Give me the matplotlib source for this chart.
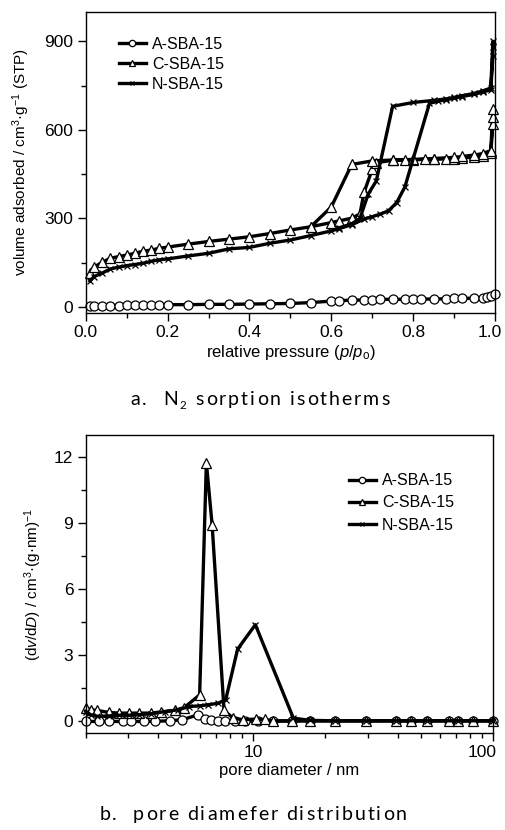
import matplotlib
matplotlib.use("Agg")
import matplotlib.pyplot as plt
from matplotlib.transforms import IdentityTransform, ScaledTranslation
from matplotlib.ticker import MultipleLocator, LogLocator, NullFormatter, FixedLocator, FixedFormatter

plt.rcParams['font.family'] = ['Liberation Sans', 'DejaVu Sans']
plt.rcParams['mathtext.fontset'] = 'custom'
plt.rcParams['mathtext.rm'] = 'Liberation Sans'
plt.rcParams['mathtext.it'] = 'Liberation Sans:italic'

# ---- (a) N2 sorption isotherms: adsorption then desorption branch ----
a_x = [0.01, 0.02, 0.04, 0.06, 0.08, 0.10, 0.12, 0.14, 0.16, 0.18, 0.20, 0.25, 0.30, 0.35,
       0.40, 0.45, 0.50, 0.55, 0.60, 0.62, 0.65, 0.68, 0.70, 0.72, 0.75, 0.78, 0.80, 0.82,
       0.85, 0.88, 0.90, 0.92, 0.95, 0.97, 0.98, 0.99, 1.0]
a_y = [2, 2, 3, 5, 5, 6, 6, 7, 7, 8, 8, 8, 9, 9, 10, 11, 12, 15, 20, 22, 23, 24, 25, 26, 26,
       26, 27, 27, 27, 28, 29, 29, 30, 31, 34, 38, 45]

c_x = [0.01, 0.02, 0.04, 0.06, 0.08, 0.10, 0.12, 0.14, 0.16, 0.18, 0.20, 0.25, 0.30, 0.35,
       0.40, 0.45, 0.50, 0.55, 0.60, 0.62, 0.65, 0.67, 0.68, 0.70, 0.71, 0.75, 0.78, 0.80,
       0.83, 0.85, 0.88, 0.90, 0.92, 0.95, 0.97, 0.99, 0.995, 0.995, 0.995,
       0.99, 0.97, 0.95, 0.92, 0.90, 0.85, 0.80, 0.75, 0.70, 0.65, 0.60, 0.55]
c_y = [115, 135, 152, 165, 171, 176, 182, 189, 193, 199, 203, 213, 222, 230, 238, 249, 261,
       272, 286, 292, 301, 315, 388, 466, 489, 497, 497, 499, 500, 500, 502, 503, 505, 508,
       513, 523, 620, 645, 670,
       530, 520, 515, 510, 507, 503, 500, 498, 495, 483, 339, 272]

n_x = [0.01, 0.02, 0.04, 0.06, 0.08, 0.10, 0.12, 0.14, 0.16, 0.18, 0.20, 0.25, 0.30, 0.35,
       0.40, 0.45, 0.50, 0.55, 0.60, 0.62, 0.65, 0.68, 0.70, 0.72, 0.74, 0.76, 0.78, 0.84,
       0.86, 0.88, 0.90, 0.92, 0.95, 0.97, 0.99, 0.995, 0.995, 0.995,
       0.99, 0.97, 0.95, 0.92, 0.90, 0.88, 0.85, 0.80, 0.75, 0.71, 0.69, 0.67, 0.65, 0.62]
n_y = [88, 103, 115, 129, 135, 140, 144, 148, 155, 160, 163, 173, 182, 197, 202, 216, 227,
       242, 258, 266, 279, 298, 306, 315, 326, 354, 407, 690, 697, 702, 708, 713, 721, 728,
       736, 850, 880, 900,
       742, 732, 724, 716, 710, 705, 700, 693, 680, 427, 382, 300, 282, 268]

# ---- (b) pore diameter distribution ----
pa_d = [2.0, 2.27, 2.5, 2.85, 3.1, 3.5, 3.9, 4.5, 5.05, 5.88, 6.27, 6.69, 7.13, 7.6, 8.4, 9.2,
        10.5, 12.1, 14.5, 17.3, 22, 29.4, 39.3, 45.4, 53.3, 65.7, 71.3, 82.5, 100]
pa_v = [-0.03, -0.03, -0.03, -0.03, -0.03, -0.03, -0.02, 0.0, 0.05, 0.27, 0.09, 0.02, 0, 0,
        -0.02, -0.02, -0.02, -0.02, -0.01, 0, 0, 0, 0, 0, 0, 0, 0, 0, 0]

pc_d = [2.0, 2.1, 2.23, 2.5, 2.76, 3.04, 3.34, 3.74, 4.1, 4.69, 5.15, 5.97, 6.37, 6.73, 7.55,
        8.24, 9.08, 10.3, 11.2, 12.1, 14.5, 17.3, 22.0, 29.4, 39.3, 45.4, 53.3, 65.7, 71.3,
        82.5, 100]
pc_v = [0.6, 0.5, 0.47, 0.38, 0.35, 0.35, 0.35, 0.35, 0.4, 0.47, 0.6, 1.18, 11.73, 8.92, 0.47,
        0.12, 0.05, 0.08, 0.06, 0, 0, 0, 0, 0, 0, 0, 0, 0, 0, 0, 0]

pn_d = [2.0, 2.1, 2.23, 2.5, 2.76, 3.04, 3.34, 3.74, 4.3, 4.85, 5.4, 5.97, 6.5, 7.13, 7.67,
        8.6, 10.2, 14.7, 17.3, 22, 29.4, 39.3, 53.3, 71.3, 100]
pn_v = [0.42, 0.27, 0.2, 0.22, 0.25, 0.25, 0.28, 0.32, 0.42, 0.5, 0.65, 0.68, 0.73, 0.8, 0.96,
        3.26, 4.37, 0.12, 0.02, 0, 0, 0, 0, 0, 0]

labels = ['A-SBA-15', 'C-SBA-15', 'N-SBA-15']


# letter-spaced caption; parts are (text, subscript?)
def spaced_caption(fig, xc, y, parts, size=14, gap=2.0):
    r = fig.canvas.get_renderer()

    def width(s, fs):
        # bar on both sides so that spaces are counted
        t = fig.text(0, 0, '|' + s + '|', fontsize=fs, family='Lato')
        w = t.get_window_extent(r).width
        t.set_text('||')
        w -= t.get_window_extent(r).width
        t.remove()
        return w

    items = []
    for s, sub in parts:
        fs = size * 0.6 if sub else size
        for ch in s:
            items.append((ch, fs, sub, width(ch, fs)))
    total = sum(i[3] for i in items) + gap * (len(items) - 1)
    x = xc - total / 2
    for ch, fs, sub, w in items:
        if ch != ' ':
            fig.text(x, y - (4 if sub else 0), ch, fontsize=fs, family='Lato',
                     transform=IdentityTransform(), va='baseline')
        x += w + gap


fig = plt.figure(figsize=(5.05, 8.30), dpi=100)
ax1 = fig.add_axes([0.170, 0.623, 0.810, 0.3627])
ax2 = fig.add_axes([0.170, 0.117, 0.806, 0.359])

lw = 2.4
mk = dict(mfc='white', mec='black', mew=0.9, color='black', lw=lw, clip_on=False)

ax1.plot(a_x, a_y, marker='o', ms=6.5, label=labels[0], **mk)
ax1.plot(c_x, c_y, marker='^', ms=6.5, label=labels[1], **mk)
ax1.plot(n_x, n_y, marker='x', ms=5, label=labels[2], **mk)

ax2.plot(pa_d, pa_v, marker='o', ms=6.5, label=labels[0], **mk)
ax2.plot(pc_d, pc_v, marker='^', ms=6.5, label=labels[1], **mk)
ax2.plot(pn_d, pn_v, marker='x', ms=5, label=labels[2], **mk)

# axes (a)
ax1.set_xlim(0, 1.0)
ax1.set_ylim(-20, 1000)
ax1.xaxis.set_major_locator(FixedLocator([0, 0.2, 0.4, 0.6, 0.8, 1.0]))
ax1.xaxis.set_major_formatter(FixedFormatter(['0.0', '0.2', '0.4', '0.6', '0.8', '1.0']))
ax1.xaxis.set_minor_locator(MultipleLocator(0.1))
ax1.yaxis.set_major_locator(MultipleLocator(300))
ax1.yaxis.set_minor_locator(MultipleLocator(150))
ax1.set_xlabel(r'relative pressure ($p$/$p_{\rm o}$)', fontsize=12, labelpad=2)
ax1.set_ylabel(r'volume adsorbed / cm$^3$·g$^{-1}$ (STP)', fontsize=11, labelpad=9)

# axes (b)
ax2.set_xscale('log')
ax2.set_xlim(2, 100)
ax2.set_ylim(-0.55, 13)
ax2.xaxis.set_major_locator(FixedLocator([10, 100]))
ax2.xaxis.set_major_formatter(FixedFormatter(['10', '100']))
ax2.xaxis.set_minor_locator(LogLocator(base=10, subs=range(2, 10), numticks=20))
ax2.xaxis.set_minor_formatter(NullFormatter())
ax2.yaxis.set_major_locator(MultipleLocator(3))
ax2.yaxis.set_minor_locator(MultipleLocator(1.5))
ax2.set_xlabel('pore diameter / nm', fontsize=12, labelpad=2)
ax2.set_ylabel(r'(d$v$/d$D$) / cm$^3$·(g·nm)$^{-1}$', fontsize=11, labelpad=7)

for ax in (ax1, ax2):
    ax.tick_params(which='major', direction='out', length=6, width=1.0, labelsize=12.5, pad=3)
    ax.tick_params(which='minor', direction='out', length=3.5, width=1.0)
    for s in ax.spines.values():
        s.set_linewidth(1.0)

# nudge the right-most tick labels so they stay inside the picture
for ax, dx in ((ax1, -4), (ax2, -8)):
    lab = ax.xaxis.get_major_ticks()[-1].label1
    lab.set_transform(lab.get_transform() + ScaledTranslation(dx / 72, 0, fig.dpi_scale_trans))

ax1.legend(frameon=False, handlelength=1.7, handletextpad=0.4, labelspacing=0.32,
           markerscale=0.7, prop={'family': 'Liberation Sans', 'size': 11.5},
           loc='upper left', bbox_to_anchor=(0.045, 0.965))
ax2.legend(frameon=False, handlelength=1.7, handletextpad=0.4, labelspacing=0.45,
           markerscale=0.7, prop={'family': 'Liberation Sans', 'size': 11.5},
           loc='upper left', bbox_to_anchor=(0.61, 0.92))

spaced_caption(fig, 260, 830 - 405, [('a.  N', False), ('2', True), (' sorption isotherms', False)])
spaced_caption(fig, 253, 830 - 820, [('b.  pore diamefer distribution', False)])

fig.savefig('out.png', dpi=100)
